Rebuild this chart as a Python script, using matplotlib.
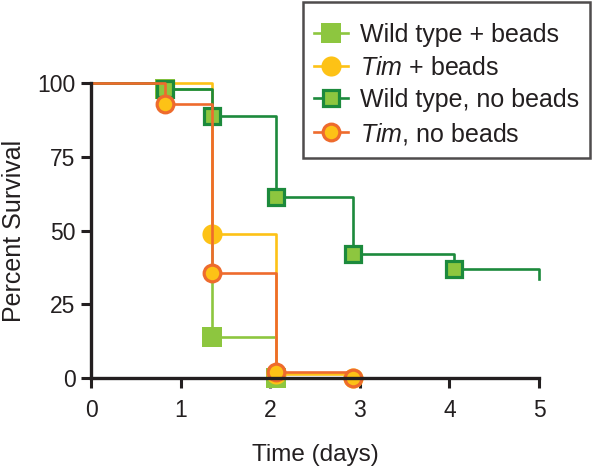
import matplotlib
matplotlib.use("Agg")
import matplotlib.pyplot as plt
from matplotlib.lines import Line2D

plt.rcParams['font.family'] = ['Liberation Sans', 'DejaVu Sans']
plt.rcParams['mathtext.fontset'] = 'custom'
plt.rcParams['mathtext.rm'] = 'Liberation Sans'
plt.rcParams['mathtext.it'] = 'Liberation Sans:italic'

# Data (time in days, percent survival)
wt_beads_t = [0, 0.83, 1.35, 2.06]
wt_beads_v = [100, 98, 14, 0]
tim_beads_t = [0, 1.35, 2.06, 2.92]
tim_beads_v = [100, 49, 1.5, 0]
wt_nob_t = [0, 0.83, 1.35, 2.06, 2.92, 4.05, 5.0]
wt_nob_v = [100, 98, 89, 61.5, 42, 37, 33.5]
tim_nob_t = [0, 0.83, 1.35, 2.06, 2.92]
tim_nob_v = [100, 93, 35.5, 2, 0]

x_ticks = [0, 1, 2, 3, 4, 5]
y_ticks = [0, 25, 50, 75, 100]

LG = '#8DC63F'
YL = '#FDC216'
DG = '#1C8A3C'
OR = '#EE6B2D'
K = '#231F20'

fig = plt.figure(figsize=(5.94, 4.67), dpi=100)
ax = fig.add_axes([0.1532, 0.1906, 0.7542, 0.631])

lw = 1.9
# Wild type + beads
ax.step(wt_beads_t, wt_beads_v, where='post', color=LG, lw=lw, zorder=2, clip_on=False)
ax.plot(wt_beads_t[1:], wt_beads_v[1:], ls='none', marker='s', ms=14, mfc=LG, mec=LG, mew=0, zorder=2, clip_on=False)
# Tim + beads
ax.step(tim_beads_t, tim_beads_v, where='post', color=YL, lw=lw, zorder=3, clip_on=False)
ax.plot(tim_beads_t[1:], tim_beads_v[1:], ls='none', marker='o', ms=14.5, mfc=YL, mec=YL, mew=0, zorder=3, clip_on=False)
# Wild type, no beads
ax.step(wt_nob_t, wt_nob_v, where='post', color=DG, lw=lw, zorder=4, clip_on=False)
ax.plot(wt_nob_t[1:-1], wt_nob_v[1:-1], ls='none', marker='s', ms=11.5, mfc=LG, mec=DG, mew=2.3, zorder=4, clip_on=False)
# Tim, no beads
ax.step(tim_nob_t, tim_nob_v, where='post', color=OR, lw=lw, zorder=5, clip_on=False)
ax.plot(tim_nob_t[1:], tim_nob_v[1:], ls='none', marker='o', ms=12, mfc=YL, mec=OR, mew=2.3, zorder=5, clip_on=False)

ax.set_xlim(0, 5)
ax.set_ylim(0, 100)
ax.set_xticks(x_ticks)
ax.set_yticks(y_ticks)
ax.tick_params(axis='both', direction='out', length=7, width=2.2, labelsize=16.5, color=K, labelcolor=K)
ax.tick_params(axis='x', pad=8)
ax.tick_params(axis='y', pad=4)
for s in ['top', 'right']:
    ax.spines[s].set_visible(False)
for s in ['left', 'bottom']:
    ax.spines[s].set_linewidth(2.4)
    ax.spines[s].set_color(K)
    ax.spines[s].set_zorder(6)

ax.set_xlabel('Time (days)', fontsize=17.5, labelpad=16, color=K)
ax.set_ylabel('Percent Survival', fontsize=18, labelpad=8, color=K)

handles = [
    Line2D([], [], color=LG, lw=lw, marker='s', ms=14, mfc=LG, mec=LG, mew=0),
    Line2D([], [], color=YL, lw=lw, marker='o', ms=14.5, mfc=YL, mec=YL, mew=0),
    Line2D([], [], color=DG, lw=lw, marker='s', ms=11.5, mfc=LG, mec=DG, mew=2.3),
    Line2D([], [], color=OR, lw=lw, marker='o', ms=12, mfc=YL, mec=OR, mew=2.3),
]
labels = ['Wild type + beads', r'$\it{Tim}$ + beads', 'Wild type, no beads', r'$\it{Tim}$, no beads']
leg = fig.legend(handles, labels, loc='upper right', bbox_to_anchor=(0.994, 0.995), fontsize=18,
                 frameon=True, fancybox=False, edgecolor=K, handlelength=1.35,
                 handletextpad=0.5, labelspacing=0.34, borderpad=0.45, borderaxespad=0,
                 title=' ', title_fontsize=1)
leg.get_frame().set_linewidth(1.8)
for t in leg.get_texts():
    t.set_color(K)

fig.savefig('out.png', dpi=100)
